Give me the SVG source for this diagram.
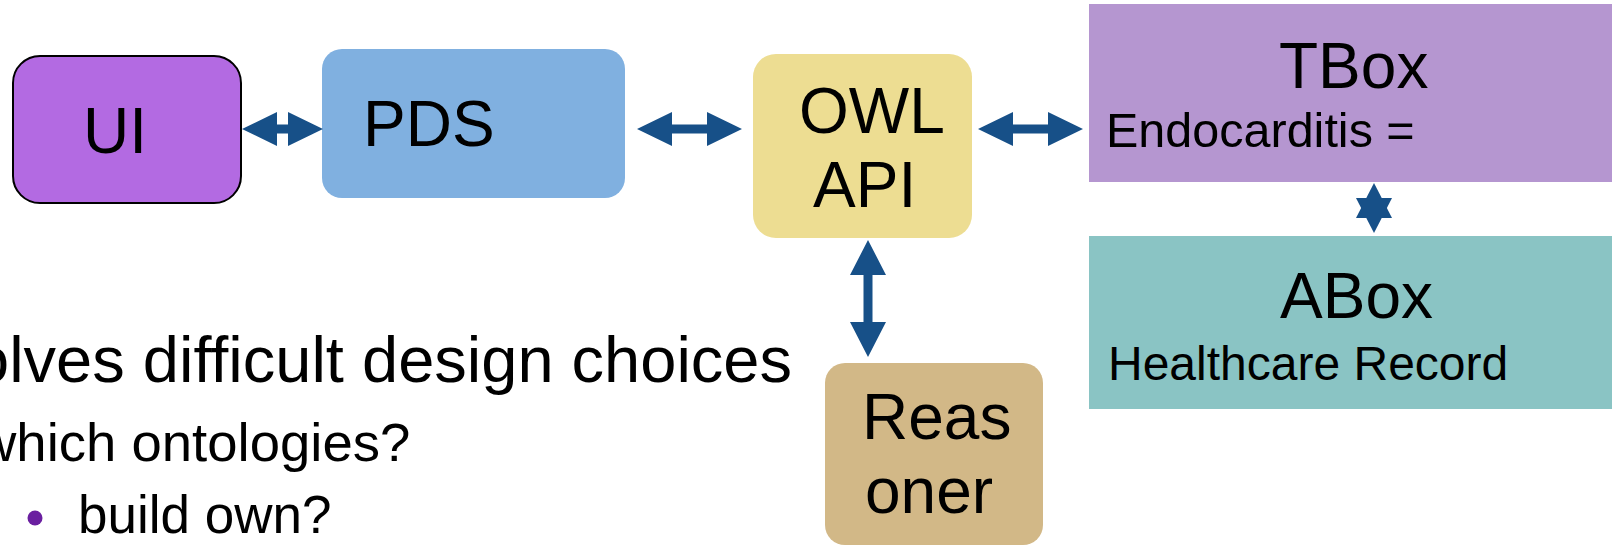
<svg xmlns="http://www.w3.org/2000/svg" width="1612" height="546" viewBox="0 0 1612 546">
<style>
text{font-family:"Liberation Sans",Arial,sans-serif;fill:#000}
.big{font-size:64px}
.mid{font-size:48px}
.arr{fill:#175088}
</style>
<rect width="1612" height="546" fill="#fff"/>
<g id="ui">
<rect x="13" y="56" width="228" height="147" rx="27" fill="#B36AE2" stroke="#000" stroke-width="2"/>
<text class="big" x="83" y="153">UI</text>
</g>
<g id="pds">
<rect x="322" y="49" width="303" height="149" rx="20" fill="#80B0E0"/>
<text class="big" x="363" y="146">PDS</text>
</g>
<g id="owlapi">
<rect x="753" y="54" width="219" height="184" rx="23" fill="#EDDD92"/>
<text class="big" x="799" y="133">OWL</text>
<text class="big" x="813" y="207">API</text>
</g>
<g id="reasoner">
<rect x="825" y="363" width="218" height="182" rx="20" fill="#D2B887"/>
<text class="big" x="862" y="439">Reas</text>
<text class="big" x="865" y="513">oner</text>
</g>
<g id="tbox">
<rect x="1089" y="4" width="530" height="178" fill="#B596D0"/>
<text class="big" x="1279" y="88">TBox</text>
<text class="mid" x="1106" y="147" style="font-size:48.5px">Endocarditis =</text>
</g>
<g id="abox">
<rect x="1089" y="236" width="530" height="173" fill="#8AC4C4"/>
<text class="big" x="1280" y="318">ABox</text>
<text class="mid" x="1108" y="380">Healthcare Record</text>
</g>
<g id="connectors">
<polygon class="arr" points="242,129 277,112 277,124.5 288,124.5 288,112 323,129 288,146 288,133.5 277,133.5 277,146"/>
<polygon class="arr" points="637,129 672,112 672,124.5 707,124.5 707,112 742,129 707,146 707,133.5 672,133.5 672,146"/>
<polygon class="arr" points="978,129 1013,112 1013,124.5 1048,124.5 1048,112 1083,129 1048,146 1048,133.5 1013,133.5 1013,146"/>
<polygon class="arr" points="868,240 886,275 872.5,275 872.5,322 886,322 868,357 850,322 863.5,322 863.5,275 850,275"/>
<polygon class="arr" points="1374,183 1392,218 1356,218"/>
<polygon class="arr" points="1374,233 1392,198 1356,198"/>
</g>
<g id="text-body">
<text x="-27" y="382" style="font-size:65px">olves difficult design choices</text>
<text x="-23" y="461" style="font-size:54.5px">which ontologies?</text>
<circle cx="35" cy="518" r="7.5" fill="#6A1FA0"/>
<text x="78" y="533" style="font-size:53px">build own?</text>
</g>
</svg>
